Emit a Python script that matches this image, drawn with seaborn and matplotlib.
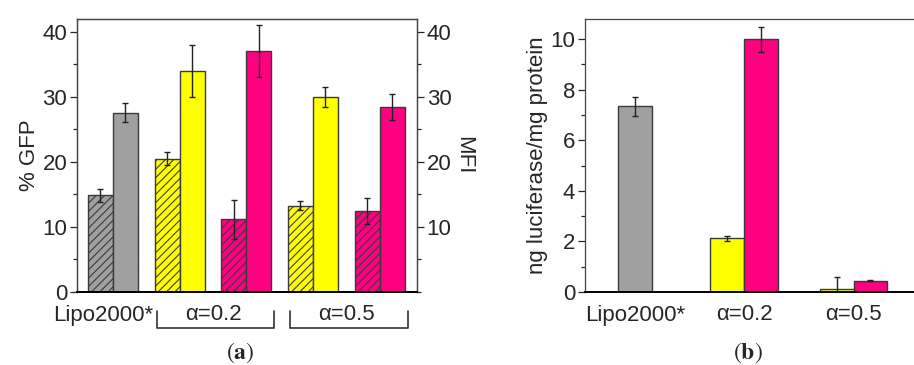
import numpy as np
import pandas as pd
import matplotlib
matplotlib.use('Agg')
from matplotlib import pyplot as plt
from matplotlib.ticker import MultipleLocator
import seaborn as sns

# panel (a): %GFP (hatched bars, left axis) and MFI (solid bars, right axis)
groups_a = ['Lipo', '0.2-Y', '0.2-P', '0.5-Y', '0.5-P']
gfp = [14.9, 20.5, 11.2, 13.3, 12.5]
gfp_err = [1.0, 1.0, 3.0, 0.65, 2.0]
mfi = [27.6, 34.0, 37.0, 30.0, 28.5]
mfi_err = [1.4, 4.0, 4.0, 1.5, 2.0]
colors_a = ['#a0a0a0', '#ffff00', '#ff0080', '#ffff00', '#ff0080']
labels_a = ['Lipo2000*', 'α=0.2', 'α=0.5']

# panel (b): luciferase expression
groups_b = ['Lipo2000*', 'α=0.2', 'α=0.5']
lipo_luc = [7.35]
lipo_err = [0.37]
yellow_luc = [2.13, 0.12]
yellow_err = [0.1, 0.48]
pink_luc = [10.0, 0.45]
pink_err = [0.5, 0.02]

sns.set_style('ticks')
plt.rcParams['font.family'] = ['Liberation Sans', 'DejaVu Sans']
plt.rcParams['mathtext.fontset'] = 'stix'
plt.rcParams['hatch.linewidth'] = 0.8
fs = 16

fig = plt.figure(figsize=(9.14, 3.65), dpi=100)
ax = fig.add_axes([0.0842, 0.2, 0.372, 0.748])
bx = fig.add_axes([0.640, 0.2, 0.362, 0.748])

edge = '#3a3a3a'

# ---- panel a
df_a = pd.DataFrame({'group': groups_a * 2,
                     'measure': ['GFP'] * 5 + ['MFI'] * 5,
                     'value': gfp + mfi})
sns.barplot(data=df_a, x='group', y='value', hue='measure', width=0.75,
            errorbar=None, legend=False, gap=0, ax=ax)
for cont, errs, hatch in zip(ax.containers[:2], [gfp_err, mfi_err], ['////', '']):
    for bar, c, e in zip(cont.patches, colors_a, errs):
        bar.set_facecolor(c)
        bar.set_edgecolor(edge)
        bar.set_linewidth(1)
        bar.set_hatch(hatch)
        xc = bar.get_x() + bar.get_width() / 2
        ax.errorbar(xc, bar.get_height(), yerr=e, color='#222222', lw=1,
                    capsize=2.3, capthick=1)

ax.set_xlim(-0.54, 4.56)
ax.set_ylim(0, 42)
ax.yaxis.set_major_locator(MultipleLocator(10))
ax.yaxis.set_minor_locator(MultipleLocator(5))
ax.set_xticks([-0.15, 1.5, 3.5])
ax.set_xticklabels(labels_a, fontsize=fs)
ax.tick_params(axis='x', length=0, pad=9)
ax.tick_params(axis='y', labelsize=fs, direction='out', length=5, width=0.9, pad=2)
ax.tick_params(axis='y', which='minor', direction='out', length=3, width=0.9)
ax.set_xlabel('')
ax.set_ylabel('% GFP', fontsize=fs, labelpad=2)

ax2 = ax.twinx()
ax2.set_ylim(0, 42)
ax2.set_yticks([10, 20, 30, 40])
ax2.yaxis.set_minor_locator(MultipleLocator(5))
ax2.tick_params(axis='y', labelsize=fs, direction='out', length=5, width=0.9, pad=2)
ax2.tick_params(axis='y', which='minor', direction='out', length=3, width=0.9)
ax2.set_ylabel('MFI', fontsize=fs, rotation=270, labelpad=16)

for a in (ax, ax2):
    for s in ['left', 'right', 'top']:
        a.spines[s].set_visible(True)
        a.spines[s].set_color('#444444')
        a.spines[s].set_linewidth(0.9)
    a.spines['bottom'].set_color('black')
    a.spines['bottom'].set_linewidth(1.4)

# brackets under the alpha groups
tr = ax.get_xaxis_transform()
for x0, x1 in [(0.66, 2.42), (2.66, 4.43)]:
    ax.plot([x0, x0, x1, x1], [-0.07, -0.132, -0.132, -0.07], color='#333333',
            lw=1.2, transform=tr, clip_on=False)

# ---- panel b
df_b = pd.DataFrame({'group': ['α=0.2', 'α=0.5', 'α=0.2', 'α=0.5'],
                     'polymer': ['Y', 'Y', 'P', 'P'],
                     'value': yellow_luc + pink_luc})
sns.barplot(data=df_b, x='group', y='value', hue='polymer', order=groups_b,
            hue_order=['Y', 'P'], width=0.62, errorbar=None, legend=False,
            gap=0, ax=bx)
df_l = pd.DataFrame({'group': ['Lipo2000*'], 'value': lipo_luc})
sns.barplot(data=df_l, x='group', y='value', order=groups_b, width=0.31,
            errorbar=None, color='#a0a0a0', ax=bx)
for cont, errs, c in zip(bx.containers, [yellow_err, pink_err, lipo_err],
                         ['#ffff00', '#ff0080', '#a0a0a0']):
    for bar, e in zip(cont.patches, errs):
        bar.set_facecolor(c)
        bar.set_edgecolor(edge)
        bar.set_linewidth(1)
        xc = bar.get_x() + bar.get_width() / 2
        bx.errorbar(xc, bar.get_height(), yerr=e, color='#222222', lw=1,
                    capsize=2.3, capthick=1)

bx.set_xlim(-0.457, 2.57)
bx.set_ylim(0, 10.8)
bx.yaxis.set_major_locator(MultipleLocator(2))
bx.yaxis.set_minor_locator(MultipleLocator(1))
bx.set_xticks([0, 1, 2])
bx.set_xticklabels(groups_b, fontsize=fs)
bx.tick_params(axis='x', length=0, pad=9)
bx.tick_params(axis='y', labelsize=fs, direction='out', length=5, width=0.9, pad=2)
bx.tick_params(axis='y', which='minor', direction='out', length=3, width=0.9)
bx.set_xlabel('')
bx.set_ylabel('ng luciferase/mg protein', fontsize=fs, labelpad=2)
for s in ['left', 'right', 'top']:
    bx.spines[s].set_visible(True)
    bx.spines[s].set_color('#444444')
    bx.spines[s].set_linewidth(0.9)
bx.spines['bottom'].set_color('black')
bx.spines['bottom'].set_linewidth(1.4)

fig.text(0.2626, 0.033, r'$(\mathbf{a})$', fontsize=17, ha='center', va='center')
fig.text(0.818, 0.033, r'$(\mathbf{b})$', fontsize=17, ha='center', va='center')

fig.savefig('out.png', dpi=100)
